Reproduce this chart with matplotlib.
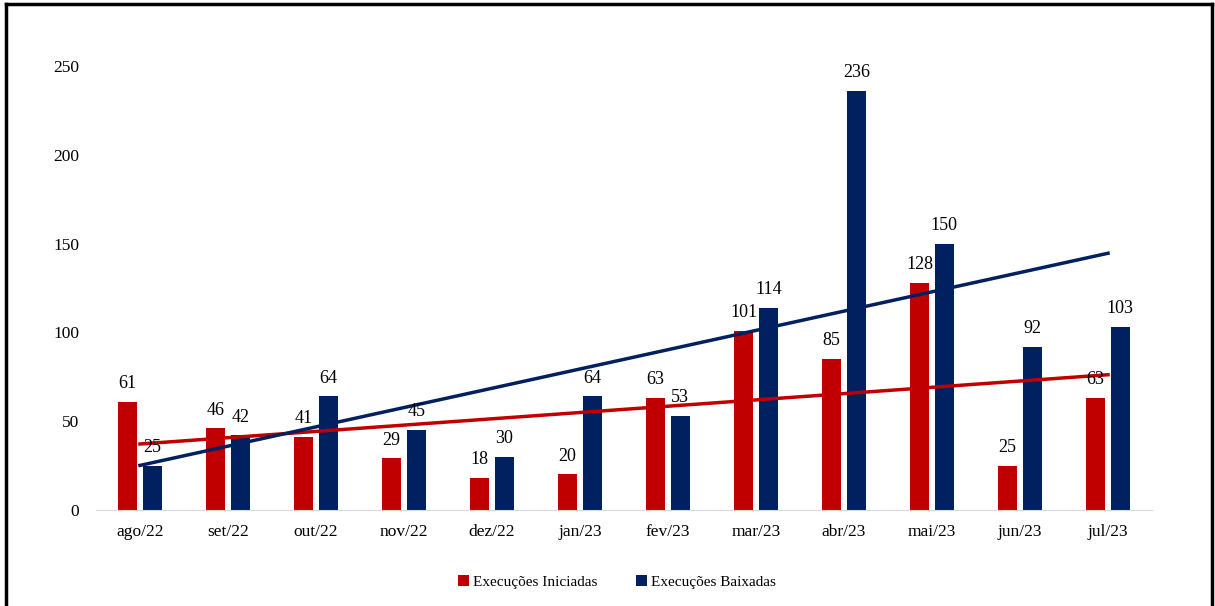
import numpy as np
import matplotlib.pyplot as plt
from matplotlib.lines import Line2D

plt.rcParams['font.family'] = ['Liberation Serif', 'DejaVu Serif']

meses = ['ago/22', 'set/22', 'out/22', 'nov/22', 'dez/22', 'jan/23',
         'fev/23', 'mar/23', 'abr/23', 'mai/23', 'jun/23', 'jul/23']
iniciadas = [61, 46, 41, 29, 18, 20, 63, 101, 85, 128, 25, 63]
baixadas = [25, 42, 64, 45, 30, 64, 53, 114, 236, 150, 92, 103]

vermelho = '#C00000'
azul = '#002060'

fig = plt.figure(figsize=(12.15, 6.06), dpi=100)
W, H = 1215, 606
ax = fig.add_axes([96 / W, 1 - 510 / H, (1152 - 96) / W, (510 - 66) / H])

x = np.arange(len(meses))
w = 0.22
off = 0.14
b1 = ax.bar(x - off, iniciadas, w, color=vermelho, label='Execuções Iniciadas')
b2 = ax.bar(x + off, baixadas, w, color=azul, label='Execuções Baixadas')

for bars, vals in ((b1, iniciadas), (b2, baixadas)):
    for r, v in zip(bars, vals):
        ax.annotate(str(v), (r.get_x() + r.get_width() / 2, v),
                    xytext=(0, 7), textcoords='offset points',
                    ha='center', va='bottom', fontsize=13)

# linhas de tendência (lineares)
for vals, cor in ((iniciadas, vermelho), (baixadas, azul)):
    a, b = np.polyfit(x, vals, 1)
    ax.plot(x, a * x + b, color=cor, lw=2.5)

ax.set_xlim(-0.5, len(meses) - 0.5)
ax.set_ylim(0, 250)
ax.set_yticks(range(0, 251, 50))
ax.set_xticks(x)
ax.set_xticklabels(meses)
ax.tick_params(axis='both', length=0, labelsize=12.5)
ax.tick_params(axis='x', pad=10)
ax.tick_params(axis='y', pad=12)
for s in ('top', 'right', 'left'):
    ax.spines[s].set_visible(False)
ax.spines['bottom'].set_color('#D9D9D9')

fig.legend(handles=[b1, b2], loc='center', bbox_to_anchor=(617 / W, 1 - 582 / H),
           ncol=2, frameon=False, fontsize=11, handlelength=0.7, handleheight=0.7,
           handletextpad=0.3, columnspacing=2.5)

# moldura
kw = dict(color='black', lw=2.5, transform=fig.transFigure)
fig.add_artist(Line2D([6 / W, 6 / W], [0, 1 - 4 / H], **kw))
fig.add_artist(Line2D([6 / W, 1212 / W], [1 - 4 / H, 1 - 4 / H], **kw))
fig.add_artist(Line2D([1212 / W, 1212 / W], [0, 1 - 4 / H], **kw))

fig.savefig('out.png', dpi=100)
